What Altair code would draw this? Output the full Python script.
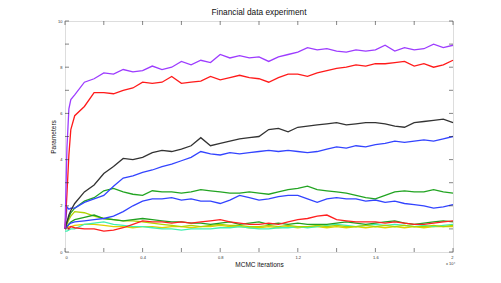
import altair as alt
import pandas as pd

# sample positions (x 10^4 iterations)
x_vals = [0, 0.01, 0.02, 0.03, 0.05,
          0.1, 0.15, 0.2, 0.25, 0.3, 0.35, 0.4, 0.45, 0.5, 0.55,
          0.6, 0.65, 0.7, 0.75, 0.8, 0.85, 0.9, 0.95, 1.0, 1.05,
          1.1, 1.15, 1.2, 1.25, 1.3, 1.35, 1.4, 1.45, 1.5, 1.55,
          1.6, 1.65, 1.7, 1.75, 1.8, 1.85, 1.9, 1.95, 2.0]

purple = [1.0, 4.5, 6.2, 6.6, 6.8,
          7.35, 7.5, 7.75, 7.7, 7.9, 7.8, 7.85, 8.05, 7.9, 8.0,
          8.25, 8.1, 8.3, 8.2, 8.55, 8.4, 8.5, 8.4, 8.45, 8.25,
          8.45, 8.55, 8.65, 8.85, 8.75, 8.8, 8.7, 8.65, 8.75, 8.7,
          8.75, 8.95, 8.7, 8.85, 8.75, 8.8, 9.0, 8.85, 8.95]
red_top = [1.0, 2.5, 4.2, 5.3, 5.9,
           6.3, 6.9, 6.9, 6.85, 7.0, 7.1, 7.35, 7.3, 7.35, 7.6,
           7.3, 7.35, 7.4, 7.6, 7.45, 7.55, 7.65, 7.55, 7.5, 7.35,
           7.55, 7.7, 7.7, 7.6, 7.75, 7.85, 7.95, 8.0, 8.1, 8.05,
           8.15, 8.15, 8.2, 8.25, 8.05, 8.15, 8.0, 8.1, 8.3]
black = [1.0, 1.3, 1.6, 1.8, 2.1,
         2.6, 2.9, 3.4, 3.7, 4.05, 4.0, 4.1, 4.3, 4.4, 4.35,
         4.45, 4.6, 4.95, 4.6, 4.7, 4.8, 4.9, 4.95, 5.0, 5.3,
         5.35, 5.2, 5.4, 5.45, 5.5, 5.55, 5.6, 5.5, 5.55, 5.6,
         5.6, 5.55, 5.45, 5.4, 5.6, 5.65, 5.7, 5.75, 5.6]
blue_upper = [1.0, 1.95, 1.85, 1.9, 1.9,
              2.15, 2.3, 2.45, 2.85, 3.2, 3.3, 3.45, 3.55, 3.7, 3.8,
              3.95, 4.1, 4.35, 4.25, 4.2, 4.3, 4.25, 4.3, 4.35, 4.4,
              4.35, 4.4, 4.35, 4.3, 4.35, 4.45, 4.55, 4.5, 4.6, 4.55,
              4.65, 4.7, 4.8, 4.75, 4.8, 4.85, 4.8, 4.9, 5.0]
green_upper = [1.0, 1.3, 1.5, 1.7, 1.9,
               2.2, 2.35, 2.65, 2.75, 2.6, 2.5, 2.45, 2.65, 2.6, 2.6,
               2.55, 2.6, 2.7, 2.65, 2.6, 2.55, 2.55, 2.6, 2.55, 2.5,
               2.6, 2.7, 2.75, 2.85, 2.7, 2.65, 2.6, 2.55, 2.45, 2.35,
               2.3, 2.45, 2.6, 2.65, 2.6, 2.6, 2.7, 2.6, 2.55]
blue_lower = [1.0, 1.1, 1.2, 1.25, 1.3,
              1.35, 1.4, 1.45, 1.55, 1.75, 2.0, 2.2, 2.3, 2.3, 2.35,
              2.25, 2.3, 2.2, 2.2, 2.1, 2.25, 2.45, 2.35, 2.25, 2.3,
              2.4, 2.45, 2.45, 2.3, 2.15, 2.3, 2.35, 2.3, 2.3, 2.2,
              2.25, 2.15, 2.2, 2.1, 2.05, 2.0, 1.9, 1.95, 2.05]
red_lower = [1.2, 1.1, 1.0, 1.1, 1.05,
             1.0, 1.0, 0.9, 0.95, 1.05, 1.2, 1.35, 1.3, 1.3, 1.25,
             1.3, 1.25, 1.3, 1.35, 1.4, 1.3, 1.25, 1.2, 1.2, 1.25,
             1.2, 1.3, 1.4, 1.45, 1.55, 1.6, 1.4, 1.35, 1.3, 1.3,
             1.3, 1.25, 1.3, 1.25, 1.2, 1.2, 1.25, 1.3, 1.35]
green_lower = [1.0, 1.1, 1.2, 1.3, 1.4,
               1.5, 1.6, 1.45, 1.4, 1.35, 1.4, 1.45, 1.4, 1.35, 1.3,
               1.3, 1.25, 1.25, 1.2, 1.25, 1.3, 1.2, 1.25, 1.3, 1.2,
               1.25, 1.2, 1.25, 1.2, 1.2, 1.2, 1.25, 1.3, 1.25, 1.2,
               1.25, 1.3, 1.35, 1.25, 1.2, 1.25, 1.3, 1.35, 1.3]
yellow_green = [1.0, 1.2, 1.4, 1.55, 1.75,
                1.7, 1.55, 1.45, 1.4, 1.35, 1.35, 1.3, 1.25, 1.2, 1.15,
                1.1, 1.15, 1.1, 1.15, 1.2, 1.15, 1.15, 1.1, 1.1, 1.15,
                1.1, 1.15, 1.1, 1.1, 1.15, 1.1, 1.15, 1.1, 1.1, 1.15,
                1.1, 1.15, 1.1, 1.15, 1.1, 1.1, 1.15, 1.1, 1.15]
aquamarine = [0.9, 0.9, 0.95, 1.0, 1.0,
              1.2, 1.25, 1.3, 1.2, 1.15, 1.1, 1.1, 1.05, 1.0, 1.0,
              0.95, 1.0, 1.0, 1.0, 1.05, 1.05, 1.1, 1.05, 1.0, 1.0,
              1.05, 1.05, 1.1, 1.05, 1.1, 1.15, 1.2, 1.15, 1.1, 1.15,
              1.2, 1.15, 1.2, 1.15, 1.1, 1.15, 1.1, 1.15, 1.2]
yellow = [1.0, 1.05, 1.1, 1.1, 1.15,
          1.2, 1.2, 1.15, 1.1, 1.1, 1.05, 1.1, 1.1, 1.05, 1.1,
          1.1, 1.05, 1.1, 1.1, 1.15, 1.1, 1.1, 1.05, 1.05, 1.1,
          1.05, 1.1, 1.05, 1.1, 1.1, 1.05, 1.1, 1.05, 1.1, 1.05,
          1.1, 1.05, 1.1, 1.05, 1.1, 1.05, 1.1, 1.1, 1.1]

series_names = ["yellow", "aquamarine", "yellow_green", "green_lower", "red_lower",
                "blue_lower", "green_upper", "blue_upper", "black", "red_top", "purple"]
series_values = [yellow, aquamarine, yellow_green, green_lower, red_lower,
                 blue_lower, green_upper, blue_upper, black, red_top, purple]
series_colors = ["#e0d000", "#40f0b0", "#b0d400", "#20a020", "#ff2020",
                 "#3344ff", "#22a422", "#3344ff", "#333333", "#ff1a1a", "#9d3cff"]

x_ticks = [0, 0.2, 0.4, 0.6, 0.8, 1.0, 1.2, 1.4, 1.6, 1.8, 2.0]
y_ticks = [0, 1, 2, 3, 4, 5, 6, 7, 8, 9, 10]

rows = []
for name, vals in zip(series_names, series_values):
    assert len(vals) == len(x_vals), name
    for i, (xv, yv) in enumerate(zip(x_vals, vals)):
        rows.append({"x": xv, "v": yv, "series": name, "i": i})
df = pd.DataFrame(rows)

W, H = 388, 231
FONT = "Liberation Sans"

xscale = alt.Scale(domain=[0, 2], nice=False, zero=False)
yscale = alt.Scale(domain=[0, 10], nice=False)

lines = alt.Chart(df).mark_line(strokeWidth=1.3).encode(
    x=alt.X("x:Q", scale=xscale,
            axis=alt.Axis(values=x_ticks, format="~g", ticks=False, domain=False, grid=False,
                          labelFontSize=4, labelColor="#333", labelPadding=3,
                          title="MCMC iterations", titleFontSize=6.5, titleFontWeight="normal",
                          titleColor="#111", titlePadding=2, titleFont=FONT, labelFont=FONT)),
    y=alt.Y("v:Q", scale=yscale,
            axis=alt.Axis(values=y_ticks, ticks=False, domain=False, grid=False,
                          labelFontSize=4, labelColor="#333", labelPadding=3,
                          title="Parameters", titleFontSize=6.5, titleFontWeight="normal",
                          titleColor="#111", titlePadding=1, titleFont=FONT, labelFont=FONT)),
    color=alt.Color("series:N", scale=alt.Scale(domain=series_names, range=series_colors), legend=None),
    order="i:Q",
)

xt = pd.DataFrame({"x": x_ticks})
yt = pd.DataFrame({"v": y_ticks})
tick_style = dict(color="#333", strokeWidth=0.6)
xb = alt.Chart(xt).mark_rule(**tick_style).encode(x="x:Q", y=alt.value(H), y2=alt.value(H - 4))
xtop = alt.Chart(xt).mark_rule(**tick_style).encode(x="x:Q", y=alt.value(0), y2=alt.value(4))
yl = alt.Chart(yt).mark_rule(**tick_style).encode(y="v:Q", x=alt.value(0), x2=alt.value(4))
yr = alt.Chart(yt).mark_rule(**tick_style).encode(y="v:Q", x=alt.value(W), x2=alt.value(W - 4))
mult = alt.Chart(pd.DataFrame({"s": ["x 10\u2074"]})).mark_text(
    fontSize=4, font=FONT, color="#333", align="left", baseline="middle"
).encode(text="s:N", x=alt.value(W - 7), y=alt.value(H + 12))

chart = alt.layer(lines, xb, xtop, yl, yr, mult).properties(
    width=W, height=H,
    title=alt.TitleParams("Financial data experiment", fontSize=8.3, fontWeight="normal",
                          font=FONT, color="#111", offset=3),
    autosize=alt.AutoSizeParams(type="none"),
    padding={"left": 57, "top": 13, "right": 40, "bottom": 23},
).configure_view(stroke="#333", strokeWidth=0.7).configure(background="white")

chart.save("out.html", embed_options={"renderer": "svg", "actions": False})
